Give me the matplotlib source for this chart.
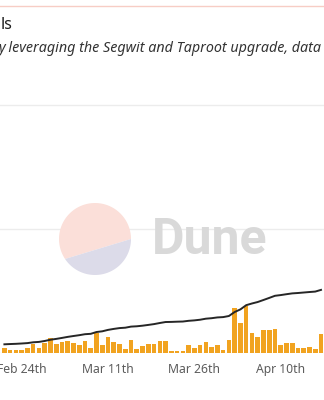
import numpy as np
import matplotlib.pyplot as plt
import matplotlib.dates as mdates
from matplotlib.patches import Polygon

# daily inscriptions (thousands), one bar per day from Feb 21st 2023
start = np.datetime64('2023-02-21')
daily = [7.6, 4.4, 4.4, 5.3, 7.6, 14.5, 7.6, 15.6, 24.7, 14.5,
         18.2, 19.4, 16.1, 13.4, 18.9, 8.5, 32.3, 13.4, 25.3, 18.2,
         14.5, 6.9, 20.5, 6.0, 11.3, 14.0, 14.0, 19.8, 18.9, 2.7,
         2.7, 3.7, 12.4, 8.5, 12.9, 18.2, 9.2, 13.4, 5.3, 21.5,
         72.6, 48.4, 76.3, 32.3, 26.3, 37.6, 37.6, 38.2, 12.9, 16.6,
         15.6, 7.6, 7.6, 9.7, 6.9, 31.1]
# cumulative total (thousands), right axis
cumulative = [159, 164, 168, 174, 181, 196, 203, 220, 243, 258,
              276, 295, 311, 326, 344, 351, 384, 397, 423, 441,
              456, 463, 483, 489, 500, 514, 529, 549, 567, 569,
              573, 576, 589, 597, 609, 628, 637, 651, 657, 677,
              750, 798, 875, 906, 933, 970, 1008, 1047, 1060, 1076,
              1091, 1098, 1107, 1116, 1124, 1155]
dates = start + np.arange(len(daily))

tick_dates = np.array(['2023-02-24', '2023-03-11', '2023-03-26', '2023-04-10'], dtype='datetime64[D]')
tick_labels = ['Feb 24th', 'Mar 11th', 'Mar 26th', 'Apr 10th']

fig = plt.figure(figsize=(3.24, 4), dpi=100)
fig.patch.set_facecolor('white')

ax = fig.add_axes([0, 47 / 400, 1, 273 / 400])
ax.bar(dates, daily, width=0.8, color='#f1a320', zorder=2)
ax.set_ylim(0, 440.3)
ax.set_yticks([0, 200, 400])
ax.grid(axis='y', color='#ececec', lw=1, zorder=0)
ax.set_axisbelow(True)

ax2 = ax.twinx()
ax2.plot(dates, cumulative, color='#262626', lw=1.4, zorder=3)
ax2.set_ylim(0, 4996)

x0 = mdates.date2num(start)
ax.set_xlim(x0 - 0.764, x0 + 55.52)
ax.set_xticks(mdates.date2num(tick_dates))
ax.set_xticklabels(tick_labels, fontsize=8.8, color='#5c5c5c', family='Noto Sans')
ax.tick_params(axis='x', length=0, pad=7.5)
ax.tick_params(axis='y', left=False, labelleft=False)
ax2.tick_params(axis='y', right=False, labelright=False)
for a in (ax, ax2):
    for s in a.spines.values():
        s.set_visible(False)

# overlay in pixel coordinates for header and watermark
ov = fig.add_axes([0, 0, 1, 1])
ov.set_xlim(0, 324)
ov.set_ylim(400, 0)
ov.axis('off')
ov.patch.set_alpha(0)

ov.plot([0, 324], [6.3, 6.3], color='#f7cdc5', lw=1)
ov.text(0.5, 25, 'ls', va='center', ha='left', fontsize=11.5, color='#1e1e1e', family='Noto Sans')
ov.text(-1.5, 48, 'y leveraging the Segwit and Taproot upgrade, data', va='center', ha='left',
        fontsize=10.3, style='italic', color='#333333', family='Noto Sans')

cx, cy, r = 95, 239, 36
split = np.deg2rad(213.7)
t1 = np.linspace(0, split, 80)
t2 = np.linspace(split, 2 * np.pi, 60)
ov.add_patch(Polygon(np.c_[cx + r * np.cos(t1), cy - r * np.sin(t1)], closed=True,
                     facecolor='#fbdfd9', edgecolor='none'))
ov.add_patch(Polygon(np.c_[cx + r * np.cos(t2), cy - r * np.sin(t2)], closed=True,
                     facecolor='#dcdbe9', edgecolor='none'))
ov.text(152, 240, 'Dune', va='center', ha='left', fontsize=36, fontweight='bold',
        color='#d9d9d9', family='Roboto')

fig.savefig('out.png', dpi=100)
